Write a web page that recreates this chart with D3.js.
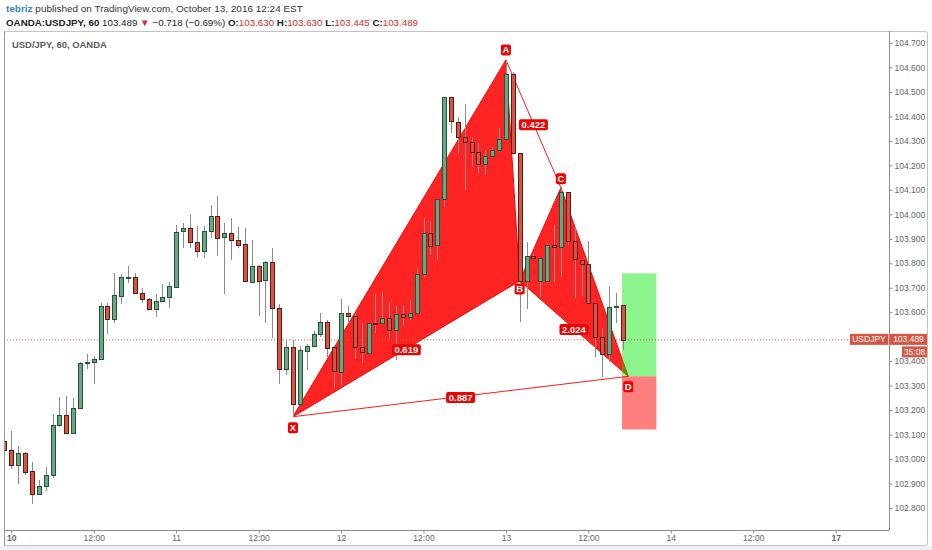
<!DOCTYPE html>
<html><head><meta charset="utf-8">
<script src="https://cdnjs.cloudflare.com/ajax/libs/d3/7.8.5/d3.min.js"></script>
<style>
html,body{margin:0;padding:0;background:#fff;}
svg{display:block;}
</style></head><body>
<svg id="c" width="932" height="550"></svg>
<script>
// ---------- DATA ----------
// hourly bars, first bar is at hour -1 relative to Oct 10 00:00 (trading-hour index)
const firstBarHour = -1;
const opens = [103.074,103.037,102.977,103.026,102.950,102.857,102.890,102.935,103.138,103.180,
  103.107,103.210,103.391,103.395,103.407,103.625,103.572,103.669,103.742,103.742,
  103.678,103.653,103.612,103.646,103.663,103.704,103.929,103.943,103.888,103.851,
  103.932,103.994,103.904,103.922,103.894,103.877,103.725,103.789,103.730,103.804,
  103.616,103.367,103.456,103.224,103.443,103.462,103.510,103.561,103.456,103.357,
  103.598,103.586,103.456,103.434,103.555,103.556,103.575,103.524,103.591,103.579,
  103.597,103.755,103.924,103.872,104.062,104.478,104.378,104.317,104.297,104.256,
  104.206,104.239,104.263,104.306,104.572,104.249,103.727,103.830,103.727,103.727,
  103.874,103.865,104.090,103.889,103.814,103.796,103.636,103.497,103.428,103.620,103.630];
const highs = [103.082,103.114,103.053,103.030,102.989,102.914,102.968,103.184,103.255,103.257,
  103.248,103.396,103.429,103.421,103.636,103.636,103.759,103.756,103.789,103.759,
  103.698,103.657,103.673,103.714,103.722,103.956,103.966,103.997,103.953,103.953,
  104.038,104.075,103.963,103.986,103.947,103.943,103.895,103.793,103.809,103.861,
  103.632,103.486,103.486,103.462,103.470,103.523,103.598,103.568,103.458,103.654,
  103.625,103.598,103.555,103.556,103.674,103.684,103.640,103.625,103.629,103.650,
  103.779,103.983,103.971,104.063,104.479,104.479,104.399,104.451,104.315,104.290,
  104.263,104.276,104.351,104.631,104.583,104.252,103.888,103.836,103.821,103.883,
  103.956,104.111,104.092,103.948,103.817,103.891,103.637,103.534,103.704,103.677,103.630];
const lows = [103.029,102.959,102.898,102.935,102.815,102.853,102.869,102.921,103.132,103.102,
  103.104,103.207,103.368,103.305,103.405,103.511,103.557,103.632,103.720,103.676,
  103.636,103.610,103.580,103.644,103.616,103.702,103.863,103.863,103.827,103.820,
  103.904,103.831,103.673,103.813,103.861,103.723,103.723,103.586,103.555,103.493,
  103.305,103.343,103.173,103.222,103.364,103.458,103.497,103.419,103.292,103.302,
  103.561,103.409,103.391,103.433,103.515,103.548,103.490,103.405,103.548,103.568,
  103.596,103.745,103.832,103.813,104.031,104.331,104.246,104.099,104.194,104.168,
  104.161,104.238,104.256,104.304,104.245,103.559,103.612,103.819,103.663,103.718,
  103.723,103.745,103.874,103.657,103.666,103.633,103.418,103.335,103.398,103.557,103.445];
const closes = [103.037,102.977,103.026,102.950,102.857,102.890,102.935,103.138,103.180,103.107,
  103.210,103.394,103.396,103.409,103.625,103.572,103.670,103.745,103.745,103.678,
  103.653,103.612,103.646,103.663,103.707,103.929,103.943,103.886,103.851,103.932,
  103.994,103.904,103.922,103.892,103.874,103.725,103.789,103.727,103.804,103.616,
  103.367,103.456,103.224,103.445,103.462,103.510,103.561,103.456,103.357,103.598,
  103.586,103.458,103.434,103.555,103.552,103.576,103.524,103.591,103.579,103.597,
  103.755,103.924,103.872,104.062,104.478,104.378,104.317,104.297,104.256,104.206,
  104.239,104.263,104.306,104.572,104.249,103.727,103.830,103.820,103.820,103.874,
  103.865,104.090,103.889,103.814,103.796,103.636,103.499,103.428,103.622,103.626,103.489];

const priceTicks = [102.8,102.9,103.0,103.1,103.2,103.3,103.4,103.5,103.6,103.7,103.8,103.9,104.0,104.1,104.2,104.3,104.4,104.5,104.6,104.7];
const timeTickHours = [0,12,24,36,48,60,72,84,96,108,120];
const timeTickLabels = ["10","12:00","11","12:00","12","12:00","13","12:00","14","12:00","17"];

const patternNames = ["X","A","B","C","D"];
const patternHours = [41,72,74,80,89.8];
const patternPrices = [103.173,104.631,103.728,104.109,103.338];
const ratioLabels = ["0.619","0.422","2.024","0.887"]; // on X-B, A-C, B-D, X-D

const positionHours = [88.9,93.9];
const positionEntry = 103.338, positionTarget = 103.759, positionStop = 103.121;

const lastPrice = 103.489;
const countdown = "35:08";
const symbolLabel = "USDJPY";

// ---------- LAYOUT ----------
const svg = d3.select("#c");
const plot = {left:4, right:889, top:31, bottom:530};
const x = d3.scaleLinear().domain([0,120]).range([11.3, 835.7]);
const y = d3.scaleLinear().domain([102.8,104.7]).range([508,43]);
const FONT = "'Liberation Sans', Arial, sans-serif";

// fit a text element's font size to a target width
function fitWidth(sel, base, target){
  sel.attr("font-size", base);
  const w = sel.node().getComputedTextLength();
  if (w > 0) sel.attr("font-size", (base*target/w).toFixed(2));
}

// background frame
svg.append("rect").attr("x",0).attr("y",0).attr("width",932).attr("height",550).attr("fill","#fff");
svg.append("rect").attr("x",0).attr("y",546).attr("width",932).attr("height",4).attr("fill","#eef0f3");
svg.append("rect").attr("x",4.5).attr("y",31.5).attr("width",923).attr("height",514)
  .attr("rx",2).attr("fill","#fff").attr("stroke","#c3c3c3");

// header
const h1 = svg.append("text").attr("x",6).attr("y",12).attr("font-family",FONT)
  .attr("fill","#333");
h1.append("tspan").attr("fill","#2f87cd").attr("font-weight","bold").text("tebriz");
h1.append("tspan").text(" published on TradingView.com, October 13, 2016 12:24 EST");
fitWidth(h1, 11, 297);

const h2 = svg.append("text").attr("x",6).attr("y",26).attr("font-family",FONT)
  .attr("fill","#222");
const red = "#d6322b";
h2.append("tspan").attr("font-weight","bold").text("OANDA:USDJPY, 60");
h2.append("tspan").text(" " + lastPrice.toFixed(3) + " ");
h2.append("tspan").attr("fill",red).text("▼");
h2.append("tspan").text(" \u22120.718 (\u22120.69%) ");
const ohlc = [["O:",opens[opens.length-1]],["H:",highs[highs.length-1]],["L:",lows[lows.length-1]],["C:",closes[closes.length-1]]];
ohlc.forEach((d,i)=>{
  h2.append("tspan").attr("font-weight","bold").text((i?" ":"")+d[0]);
  h2.append("tspan").attr("fill",red).text(d[1].toFixed(3));
});
fitWidth(h2, 11, 412);

// chart title
const tt = svg.append("text").attr("x",12).attr("y",48).attr("font-family",FONT)
  .attr("font-weight","bold").attr("fill","#5a5a5a").text("USD/JPY, 60, OANDA");
fitWidth(tt, 11, 95);

// clip
svg.append("clipPath").attr("id","pc").append("rect")
  .attr("x",plot.left+1).attr("y",plot.top+1).attr("width",plot.right-plot.left-1).attr("height",plot.bottom-plot.top-1);
const g = svg.append("g").attr("clip-path","url(#pc)");

// pattern fills
const P = patternNames.map((n,i)=>({name:n, px:x(patternHours[i]), py:y(patternPrices[i])}));
const [X,A,B,C,D] = P;
const tri = (a,b,c)=>`M${a.px},${a.py}L${b.px},${b.py}L${c.px},${c.py}Z`;
g.append("path").attr("d",tri(X,A,B)).attr("fill","rgba(255,0,0,0.86)").attr("stroke","#ff0000").attr("stroke-width",1);
g.append("path").attr("d",tri(B,C,D)).attr("fill","rgba(255,0,0,0.86)").attr("stroke","#ff0000").attr("stroke-width",1);
[[A,C],[X,D]].forEach(([a,b])=>{
  g.append("line").attr("x1",a.px).attr("y1",a.py).attr("x2",b.px).attr("y2",b.py)
    .attr("stroke","#ff1a1a").attr("stroke-width",1);
});

// position boxes
const bx0 = x(positionHours[0]), bx1 = x(positionHours[1]);
g.append("rect").attr("x",bx0).attr("width",bx1-bx0).attr("y",y(positionTarget))
  .attr("height",y(positionEntry)-y(positionTarget)).attr("fill","rgba(0,230,0,0.45)");
g.append("rect").attr("x",bx0).attr("width",bx1-bx0).attr("y",y(positionEntry))
  .attr("height",y(positionStop)-y(positionEntry)).attr("fill","rgba(255,0,0,0.5)");

// current price dotted line
g.append("line").attr("x1",plot.left).attr("x2",850).attr("y1",y(lastPrice)+0.5).attr("y2",y(lastPrice)+0.5)
  .attr("stroke","#d75442").attr("stroke-dasharray","1,2").attr("stroke-width",1);

// candles
const bars = opens.map((o,i)=>({t:firstBarHour+i,o,h:highs[i],l:lows[i],c:closes[i]}));
const cg = g.append("g").attr("shape-rendering","crispEdges");
cg.selectAll("line.w").data(bars).join("line").attr("class","w")
  .attr("x1",d=>Math.round(x(d.t))+0.5).attr("x2",d=>Math.round(x(d.t))+0.5)
  .attr("y1",d=>y(d.h)).attr("y2",d=>y(d.l)).attr("stroke","#8a8a8c").attr("stroke-width",1);
cg.selectAll("rect.b").data(bars).join("rect").attr("class","b")
  .attr("x",d=>Math.round(x(d.t))-2+0.5).attr("width",4)
  .attr("y",d=>Math.round(y(Math.max(d.o,d.c)))+0.5)
  .attr("height",d=>Math.max(1,Math.round(Math.abs(y(d.o)-y(d.c)))))
  .attr("fill",d=>d.c>=d.o?"#6ba583":"#d75442")
  .attr("stroke",d=>d.c>=d.o?"#225437":"#5b1a13").attr("stroke-width",1);

// ratio labels
const ratioPairs = [[X,B],[A,C],[B,D],[X,D]];
const lbl = (cx,cy,txt,w,h)=>{
  const gg = svg.append("g");
  gg.append("rect").attr("x",cx-w/2).attr("y",cy-h/2).attr("width",w).attr("height",h).attr("rx",2)
    .attr("fill","#f20000");
  gg.append("text").attr("x",cx).attr("y",cy+3.3).attr("text-anchor","middle").attr("font-family",FONT)
    .attr("font-size",9.5).attr("font-weight","bold").attr("fill","#fff").text(txt);
};
ratioPairs.forEach(([a,b],i)=>lbl((a.px+b.px)/2,(a.py+b.py)/2+1,ratioLabels[i],29,11));
// point labels
const pOff = {X:11,A:-10,B:8,C:-9,D:10.5};
P.forEach(p=>lbl(p.px,p.py+pOff[p.name],p.name,10,11));

// axes
svg.append("line").attr("x1",plot.right+0.5).attr("x2",plot.right+0.5).attr("y1",plot.top).attr("y2",plot.bottom)
  .attr("stroke","#8c8c8c");
svg.append("line").attr("x1",plot.left).attr("x2",plot.right).attr("y1",plot.bottom+0.5).attr("y2",plot.bottom+0.5)
  .attr("stroke","#8c8c8c");
svg.append("line").attr("x1",plot.left+0.5).attr("x2",plot.left+0.5).attr("y1",plot.top).attr("y2",546)
  .attr("stroke","#9a9a9a");

const ly = y(lastPrice);
// tick labels hidden behind the last-price label are not drawn (as in the reference)
const visibleTicks = priceTicks.filter(p=>Math.abs(y(p)-ly) > 8);
const ya = svg.append("g").attr("transform",`translate(${plot.right+0.5},0)`)
  .call(d3.axisRight(y).tickValues(visibleTicks).tickFormat(d3.format(".3f")).tickSize(3).tickPadding(2));
ya.select(".domain").remove();
ya.selectAll("line").attr("stroke","#8c8c8c");
ya.selectAll("text").attr("font-family",FONT).attr("font-size",8.5).attr("fill","#666");

const xa = svg.append("g").attr("transform",`translate(0,${plot.bottom+0.5})`)
  .call(d3.axisBottom(x).tickValues(timeTickHours).tickFormat((d,i)=>timeTickLabels[i]).tickSize(3).tickPadding(1));
xa.select(".domain").remove();
xa.selectAll("line").attr("stroke","#8c8c8c");
xa.selectAll("text").attr("font-family",FONT).attr("font-size",8.5).attr("fill","#666")
  .attr("font-weight",(d,i)=>(i===0||i===timeTickHours.length-1)?"bold":"normal");

// last price labels
svg.append("rect").attr("x",850).attr("y",ly-5.5).attr("width",38.5).attr("height",11).attr("fill","#d75442");
svg.append("text").attr("x",869).attr("y",ly+3).attr("text-anchor","middle").attr("font-family",FONT)
  .attr("font-size",8.5).attr("fill","#fff").text(symbolLabel);
svg.append("rect").attr("x",890).attr("y",ly-5.5).attr("width",37).attr("height",11).attr("fill","#d75442");
svg.append("text").attr("x",908.5).attr("y",ly+3).attr("text-anchor","middle").attr("font-family",FONT)
  .attr("font-size",8.5).attr("fill","#fff").text(lastPrice.toFixed(3));
svg.append("rect").attr("x",902).attr("y",ly+7).attr("width",25).attr("height",11).attr("fill","#d75442");
svg.append("text").attr("x",914.5).attr("y",ly+15.5).attr("text-anchor","middle").attr("font-family",FONT)
  .attr("font-size",8.5).attr("fill","#fff").text(countdown);
</script>
</body></html>
